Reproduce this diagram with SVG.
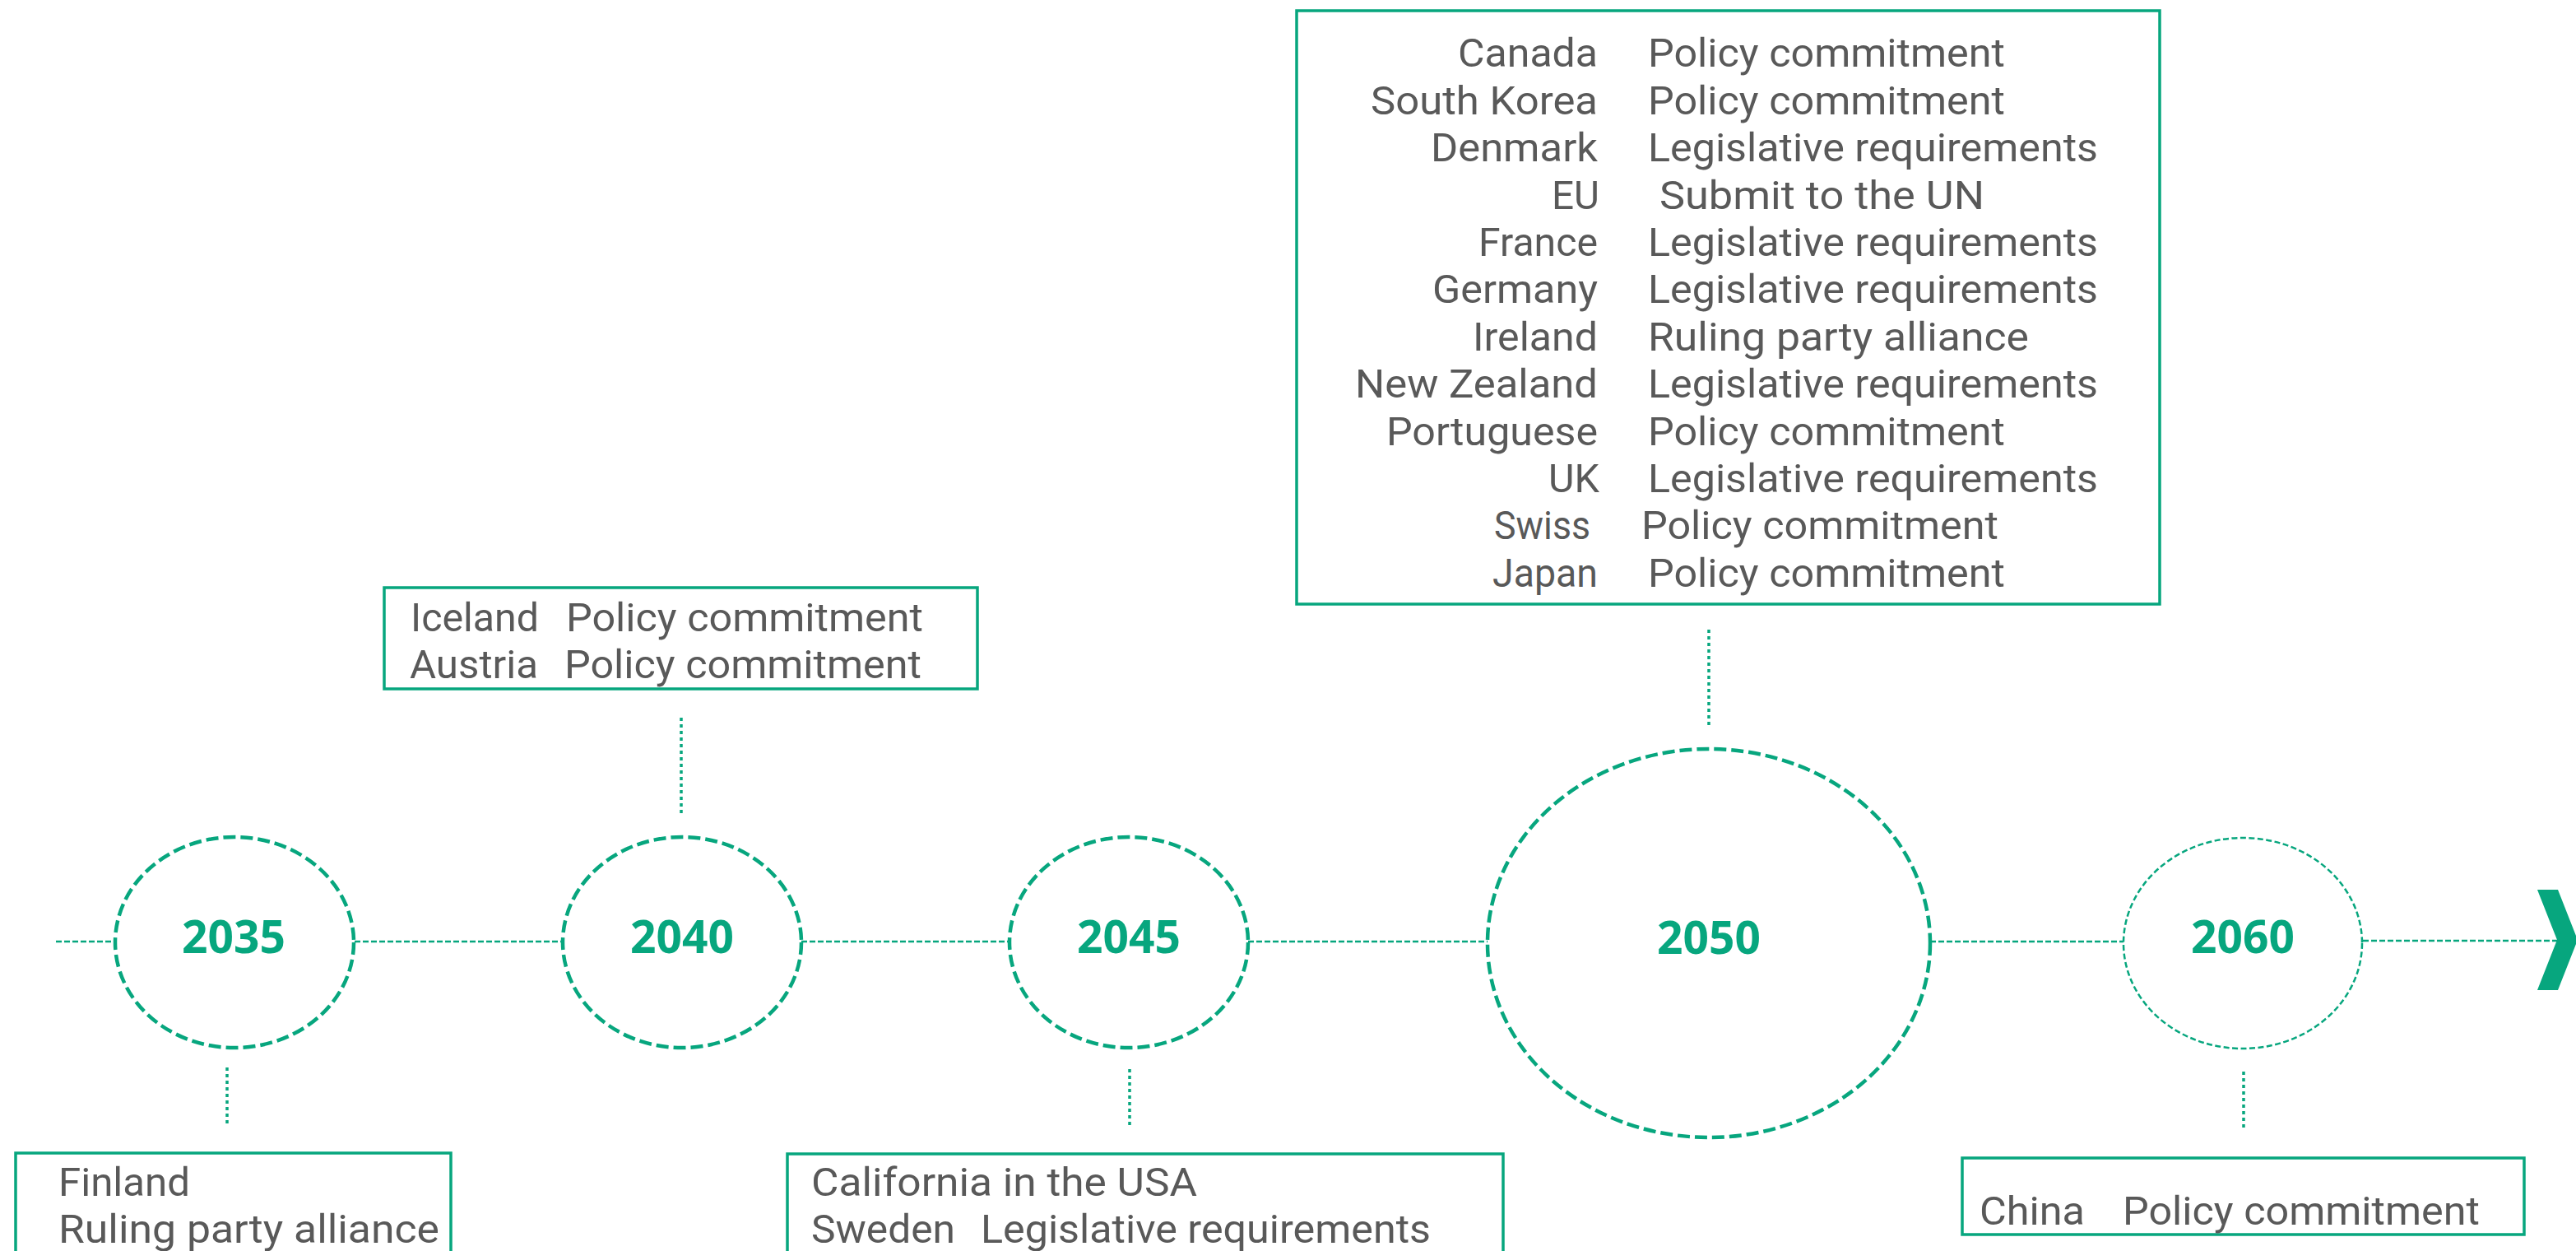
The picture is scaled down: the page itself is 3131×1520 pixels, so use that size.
<svg xmlns="http://www.w3.org/2000/svg" width="3131" height="1520" viewBox="0 0 3131 1520">
  <style>
    .bg { fill: #ffffff; }
    .axis { fill: none; stroke: #07A67E; stroke-width: 2.5; stroke-dasharray: 7 3; }
    .tick { fill: none; stroke: #07A67E; stroke-width: 3.5; stroke-dasharray: 4 4; }
    .ring { fill: none; stroke: #07A67E; stroke-width: 4.5; stroke-dasharray: 15 6; }
    .ring-thin { fill: none; stroke: #07A67E; stroke-width: 2.5; stroke-dasharray: 7 3.5; }
    .box { fill: none; stroke: #07A67E; stroke-width: 3.5; }
    .yr { font-family: "Open Sans", "Noto Sans", sans-serif; font-weight: bold; font-size: 55px; fill: #07A67E; text-anchor: middle; }
    .t { font-family: Roboto, "Open Sans", sans-serif; font-size: 48.5px; fill: #595959; }
    .r { text-anchor: end; }
    .arrow { fill: #07A67E; }
  </style>
  <rect class="bg" x="0" y="0" width="3131" height="1520"/>

  <!-- timeline axis and leader lines -->
  <g id="connectors">
    <line class="axis" x1="68" y1="1144" x2="139" y2="1144"/>
    <line class="axis" x1="431" y1="1144" x2="684" y2="1144"/>
    <line class="axis" x1="974" y1="1144" x2="1227" y2="1144"/>
    <line class="axis" x1="1517" y1="1144" x2="1808" y2="1144"/>
    <line class="axis" x1="2346" y1="1144" x2="2581" y2="1144"/>
    <line class="axis" x1="2872" y1="1143" x2="3108" y2="1143"/>
    <line class="tick" x1="276" y1="1297" x2="276" y2="1368"/>
    <line class="tick" x1="828" y1="872" x2="828" y2="990"/>
    <line class="tick" x1="1373" y1="1299" x2="1373" y2="1370"/>
    <line class="tick" x1="2077" y1="765" x2="2077" y2="885"/>
    <line class="tick" x1="2727" y1="1302" x2="2727" y2="1372"/>
    <polygon class="arrow" points="3084,1081 3109,1081 3133,1142 3109,1203 3084,1203 3108,1142"/>
  </g>

  <!-- year markers -->
  <g id="y2035">
    <ellipse class="ring" cx="285" cy="1145" rx="145" ry="128"/>
    <text class="yr" x="284" y="1158">2035</text>
  </g>
  <g id="y2040">
    <ellipse class="ring" cx="829" cy="1145" rx="145" ry="128"/>
    <text class="yr" x="829" y="1158">2040</text>
  </g>
  <g id="y2045">
    <ellipse class="ring" cx="1372" cy="1145" rx="145" ry="128"/>
    <text class="yr" x="1372" y="1158">2045</text>
  </g>
  <g id="y2050">
    <ellipse class="ring" cx="2077" cy="1146" rx="269" ry="236"/>
    <text class="yr" x="2077" y="1159">2050</text>
  </g>
  <g id="y2060">
    <ellipse class="ring-thin" cx="2726" cy="1146" rx="145" ry="128"/>
    <text class="yr" x="2726" y="1158">2060</text>
  </g>

  <!-- commitment boxes -->
  <g id="box2035">
    <rect class="box" x="19" y="1401" width="529" height="140"/>
    <text class="t" x="71" y="1453" textLength="160" lengthAdjust="spacingAndGlyphs">Finland</text>
    <text class="t" x="71" y="1510" textLength="463" lengthAdjust="spacingAndGlyphs">Ruling party alliance</text>
  </g>
  <g id="box2040">
    <rect class="box" x="467" y="714" width="721" height="123"/>
    <text class="t" x="499" y="767" textLength="156" lengthAdjust="spacingAndGlyphs">Iceland</text>
    <text class="t" x="688" y="767" textLength="434" lengthAdjust="spacingAndGlyphs">Policy commitment</text>
    <text class="t" x="498" y="824" textLength="156" lengthAdjust="spacingAndGlyphs">Austria</text>
    <text class="t" x="686" y="824" textLength="434" lengthAdjust="spacingAndGlyphs">Policy commitment</text>
  </g>
  <g id="box2045">
    <rect class="box" x="957" y="1402" width="870" height="140"/>
    <text class="t" x="986" y="1453" textLength="469" lengthAdjust="spacingAndGlyphs">California in the USA</text>
    <text class="t" x="986" y="1510" textLength="175" lengthAdjust="spacingAndGlyphs">Sweden</text>
    <text class="t" x="1192" y="1510" textLength="547" lengthAdjust="spacingAndGlyphs">Legislative requirements</text>
  </g>
  <g id="box2050">
    <rect class="box" x="1576" y="13" width="1049" height="721"/>
    <text class="t r" x="1942" y="81" textLength="170" lengthAdjust="spacingAndGlyphs">Canada</text>
    <text class="t" x="2003" y="81" textLength="434" lengthAdjust="spacingAndGlyphs">Policy commitment</text>
    <text class="t r" x="1942" y="138.5" textLength="276" lengthAdjust="spacingAndGlyphs">South Korea</text>
    <text class="t" x="2003" y="138.5" textLength="434" lengthAdjust="spacingAndGlyphs">Policy commitment</text>
    <text class="t r" x="1942" y="196" textLength="203" lengthAdjust="spacingAndGlyphs">Denmark</text>
    <text class="t" x="2003" y="196" textLength="547" lengthAdjust="spacingAndGlyphs">Legislative requirements</text>
    <text class="t r" x="1944" y="253.5" textLength="58" lengthAdjust="spacingAndGlyphs">EU</text>
    <text class="t" x="2017" y="253.5" textLength="395" lengthAdjust="spacingAndGlyphs">Submit to the UN</text>
    <text class="t r" x="1942" y="311" textLength="145" lengthAdjust="spacingAndGlyphs">France</text>
    <text class="t" x="2003" y="311" textLength="547" lengthAdjust="spacingAndGlyphs">Legislative requirements</text>
    <text class="t r" x="1942" y="368" textLength="201" lengthAdjust="spacingAndGlyphs">Germany</text>
    <text class="t" x="2003" y="368" textLength="547" lengthAdjust="spacingAndGlyphs">Legislative requirements</text>
    <text class="t r" x="1942" y="425.5" textLength="152" lengthAdjust="spacingAndGlyphs">Ireland</text>
    <text class="t" x="2003" y="425.5" textLength="463" lengthAdjust="spacingAndGlyphs">Ruling party alliance</text>
    <text class="t r" x="1942" y="483" textLength="295" lengthAdjust="spacingAndGlyphs">New Zealand</text>
    <text class="t" x="2003" y="483" textLength="547" lengthAdjust="spacingAndGlyphs">Legislative requirements</text>
    <text class="t r" x="1942" y="540.5" textLength="257" lengthAdjust="spacingAndGlyphs">Portuguese</text>
    <text class="t" x="2003" y="540.5" textLength="434" lengthAdjust="spacingAndGlyphs">Policy commitment</text>
    <text class="t r" x="1944" y="598" textLength="62" lengthAdjust="spacingAndGlyphs">UK</text>
    <text class="t" x="2003" y="598" textLength="547" lengthAdjust="spacingAndGlyphs">Legislative requirements</text>
    <text class="t r" x="1933" y="655" textLength="117" lengthAdjust="spacingAndGlyphs">Swiss</text>
    <text class="t" x="1995" y="655" textLength="434" lengthAdjust="spacingAndGlyphs">Policy commitment</text>
    <text class="t r" x="1942" y="712.5" textLength="128" lengthAdjust="spacingAndGlyphs">Japan</text>
    <text class="t" x="2003" y="712.5" textLength="434" lengthAdjust="spacingAndGlyphs">Policy commitment</text>
  </g>
  <g id="box2060">
    <rect class="box" x="2385" y="1407" width="683" height="93"/>
    <text class="t" x="2406" y="1488" textLength="128" lengthAdjust="spacingAndGlyphs">China</text>
    <text class="t" x="2580" y="1488" textLength="434" lengthAdjust="spacingAndGlyphs">Policy commitment</text>
  </g>
</svg>
